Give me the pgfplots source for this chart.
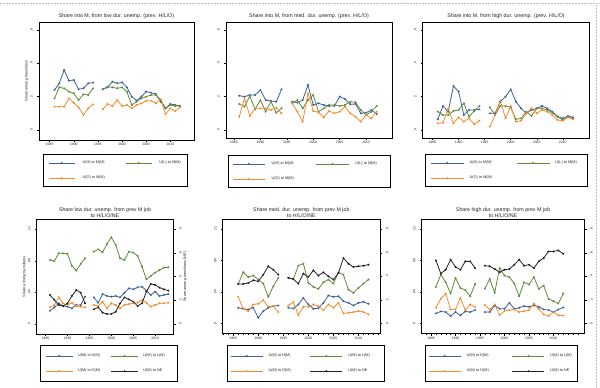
\documentclass[border=0pt]{standalone}
\usepackage{fontspec}
\setmainfont{Liberation Sans}
\usepackage{pgfplots}
\usepackage{pgfplotstable}
\pgfplotsset{compat=1.18}

\definecolor{cB}{RGB}{62,98,148}
\definecolor{cG}{RGB}{98,140,62}
\definecolor{cO}{RGB}{245,140,45}
\definecolor{cK}{RGB}{35,35,35}

% top panels: year, U(H), U(L), U(O) to M(M)
\pgfplotstableread{
year b g o
1986 .24 .19 .14
1987 .28 .256 .14
1988 .36 .25 .14
1989 .296 .23 .19
1990 .30 .22 .164
1991 .244 .18 .136
1992 .25 .214 .09
1993 .28 .21 .13
1994 .284 .25 .154
1995 nan nan nan
1996 .244 .244 .124
1997 .256 .26 .156
1998 .29 .256 .144
1999 .28 .25 .18
2000 .286 .256 .144
2001 .256 .23 .15
2002 .2 .15 .13
2003 .176 .17 .15
2004 .2 .19 .16
2005 .23 .2 .174
2006 .224 .21 .176
2007 .216 .21 .16
2008 .17 .18 .184
2009 .13 .13 .096
2010 .156 .15 .13
2011 .15 .144 .114
2012 .144 .144 .136
}\tTL
\pgfplotstableread{
year b g o
1986 .206 .156 .08
1987 .2 .14 .19
1988 .21 .204 .084
1989 .21 .124 .13
1990 .24 .18 .13
1991 .18 .11 .13
1992 .174 .17 .12
1993 .17 .104 .134
1994 .244 .13 .1
1995 nan nan nan
1996 .17 .16 .16
1997 .164 .18 .11
1998 .18 .13 .05
1999 .27 .18 .22
2000 .15 .21 .114
2001 .16 .11 .106
2002 .15 .13 .076
2003 .144 .15 .114
2004 .144 .15 .1
2005 .2 .144 .11
2006 .186 .15 .14
2007 .154 .17 .1
2008 .156 .166 .08
2009 .1 .12 .05
2010 .104 .09 .09
2011 .12 .11 .07
2012 .096 .144 .11
}\tTM
\pgfplotstableread{
year b g o
1986 .064 .11 .04
1987 .144 .09 .044
1988 .11 .09 .13
1989 .264 .114 .04
1990 .23 .12 .076
1991 .09 .16 .05
1992 .12 .08 .07
1993 .12 .114 .034
1994 .124 .144 .056
1995 nan nan nan
1996 .1 .136 .02
1997 .1 .09 .09
1998 .17 .144 .176
1999 .2 .144 .07
2000 .244 .136 .144
2001 .17 .064 .05
2002 .13 .07 .056
2003 .1 .11 .1
2004 .12 .084 .13
2005 .13 .13 .1
2006 .144 .13 .12
2007 .13 .12 .11
2008 .11 .104 .09
2009 .08 .08 .06
2010 .07 .06 .056
2011 .084 .076 .076
2012 .076 .07 .064
}\tTR
% bottom panels: year, H (left), L (right), O (left), NE (right)
\pgfplotstableread{
year b g o k
1986 .0169 .541 .0211 .245
1987 .0211 .532 .0241 .203
1988 .0262 .597 .0338 .161
1989 .0228 .597 .0262 .152
1990 .0220 .592 .0241 .175
1991 .0199 .490 .0270 .237
1992 .0241 .451 .0228 .287
1993 .0241 .507 .0220 .265
1994 .0346 .555 .0211 .175
1995 nan nan nan nan
1996 .0338 .611 .0241 .124
1997 .0270 .631 .0228 .141
1998 .0380 .606 .0283 .096
1999 .0355 .676 .0199 .085
2000 .0346 .732 .0262 .085
2001 .0355 .668 .0241 .104
2002 .0338 .555 .0199 .175
2003 .0397 .541 .0241 .225
2004 .0452 .611 .0253 .208
2005 .0439 .603 .0262 .189
2006 .0465 .575 .0270 .152
2007 .0473 .485 .0304 .175
2008 .0422 .377 .0270 .273
2009 .0368 .406 .0220 .338
2010 .0410 .434 .0241 .330
2011 .0355 .456 .0262 .307
2012 .0368 .476 .0262 .293
2013 .0380 .479 .0270 .282
}\tBL
\pgfplotstableread{
year b g o k
1986 .0199 .335 .0338 .335
1987 .0186 .434 .0186 .335
1988 .0177 .394 .0156 .344
1989 .0199 .406 .0241 .366
1990 .0072 .372 .0249 .358
1991 .0156 .338 .0296 .414
1992 .0199 .225 .0211 .485
1993 .0220 .315 .0220 .456
1994 .0228 .386 .0144 .414
1995 nan nan nan nan
1996 .0199 .386 .0228 .386
1997 .0190 .377 .0270 .377
1998 .0241 .490 .0106 .338
1999 .0325 .507 .0211 .423
2000 .0241 .344 .0211 .394
2001 .0186 .310 .0241 .451
2002 .0194 .293 .0220 .406
2003 .0262 .349 .0169 .434
2004 .0355 .372 .0241 .400
2005 .0338 .338 .0199 .372
2006 .0346 .434 .0262 .428
2007 .0283 .414 .0127 .555
2008 .0262 .287 .0135 .507
2009 .0228 .259 .0144 .479
2010 .0262 .301 .0156 .485
2011 .0275 .338 .0144 .490
2012 .0249 .372 .0114 .499
}\tBM
\pgfplotstableread{
year b g o k
1986 .0127 .310 .0199 .535
1987 .0152 .414 .0313 .423
1988 .0144 .349 .0380 .456
1989 .0093 .254 .0177 .541
1990 .0144 .386 .0177 .479
1991 .0101 .301 .0325 .456
1992 .0152 .282 .0169 .527
1993 .0144 .231 .0241 .527
1994 .0169 .335 .0211 .470
1995 nan nan nan nan
1996 .0144 .296 .0232 .490
1997 .0144 .377 .0177 .485
1998 .0228 .259 .0241 .462
1999 .0186 .470 .0106 .434
2000 .0186 .406 .0156 .456
2001 .0262 .394 .0169 .462
2002 .0186 .338 .0177 .499
2003 .0199 .231 .0144 .541
2004 .0220 .349 .0156 .490
2005 .0211 .330 .0169 .499
2006 .0228 .394 .0253 .470
2007 .0211 .293 .0186 .527
2008 .0177 .321 .0114 .555
2009 .0169 .208 .0093 .611
2010 .0144 .189 .0144 .611
2011 .0177 .169 .0101 .620
2012 .0203 .254 .0101 .592
}\tBR

\pgfplotsset{
  sB/.style={color=cB, line width=0.8bp, mark=*, mark size=0.55bp, mark options={solid}},
  sG/.style={color=cG, line width=0.8bp, mark=*, mark size=0.55bp, mark options={solid}},
  sO/.style={color=cO, line width=0.8bp, mark=*, mark size=0.55bp, mark options={solid}},
  sK/.style={color=cK, line width=0.8bp, mark=*, mark size=0.55bp, mark options={solid}},
  legimg/.style 2 args={legend image code/.code={\draw[mark repeat=2,mark phase=2,##1] plot coordinates {(0bp,0bp) (#1,0bp) (#2,0bp)};}},
  base/.style={
    scale only axis,
    axis line style={black, line width=0.6bp},
    tick style={black, line width=0.4bp},
    tick align=outside,
    major tick length=2.2bp,
    minor tick length=1.3bp,
    xtick={1985,1990,...,2010},
    xticklabels={1985,1990,1995,2000,2005,2010},
    minor xtick={1983,...,2015},
    xtick pos=bottom, ytick pos=left,
    /pgf/number format/assume math mode=true,
    ticklabel style={font=\fontsize{3.4}{4}\selectfont, inner sep=1bp, text=black!85},
    yticklabel style={rotate=90, anchor=south},
    yticklabel shift=3bp,
    ylabel style={font=\fontsize{3.8}{4.2}\selectfont, inner sep=0.5bp, text=black!85},
    unbounded coords=jump,
    every axis title/.style={at={(0.5,1)}, anchor=south, inner sep=0pt, font=\fontsize{5.3}{5.9}\selectfont, align=center, text=black!85},
    legend columns=2,
    legend cell align=left,
  },
  topy/.style={ytick={0,0.2,0.4,0.6}, yticklabels={0,.2,.4,.6}, title style={yshift=3.5bp}},
  boty/.style={ymin=-0.01267, ymax=0.13267, ytick={0,0.04,0.08,0.12}, yticklabels={0,.04,.08,.12}, title style={yshift=1.8bp}},
  right/.style={scale only axis, axis x line=none, axis y line*=right,
    axis line style={black, line width=0.6bp},
    tick style={black, line width=0.4bp}, tick align=outside, major tick length=2.2bp,
    xtick=\empty, minor xtick=\empty,
    ymin=-0.0845, ymax=0.8845, ytick={0,0.2,0.4,0.6,0.8}, yticklabels={0,.2,.4,.6,.8},
    ticklabel style={font=\fontsize{3.4}{4}\selectfont, inner sep=1bp, text=black!85},
    yticklabel style={rotate=90, anchor=north},
    yticklabel shift=2.5bp,
    ylabel style={font=\fontsize{3.8}{4.2}\selectfont, inner sep=0.5bp, text=black!85},
    unbounded coords=jump, legend columns=2, legend cell align=left},
  leg/.style={legend style={font=\fontsize{3.8}{4.2}\selectfont, draw=black, line width=0.6bp,
    anchor=north west, nodes={inner sep=0.5bp}, text=black!85}},
}

\begin{document}
\begin{tikzpicture}[x=1bp,y=1bp]
\useasboundingbox (0,0) rectangle (600,387);
\fill[white] (0,0) rectangle (600,387);
\draw[densely dotted, color=gray!50, line width=0.5bp] (0,383.5) -- (600,383.5);
\draw[densely dotted, color=gray!50, line width=0.5bp] (596.7,0) -- (596.7,383.5);

% ---------- top left
\begin{axis}[base, topy, at={(39bp,247bp)}, anchor=south west, width=155bp, height=118bp,
  xmin=1982.8, xmax=2014.9, ymin=-0.06, ymax=0.648,
  title={Share into M, from low dur. unemp. (prev. H/L/O)},
  ylabel={Share among transitions},
  leg, legimg={13bp}{26bp},
  legend style={at={(0.0258,-0.1186)}, inner xsep=5bp, inner ysep=6bp, row sep=10bp,
    /tikz/every odd column/.append style={column sep=7bp},
    /tikz/every even column/.append style={column sep=4bp}}]
\addplot[sB] table[x=year,y=b]{\tTL}; \addlegendentry{\makebox[38bp][l]{U(H) to M(M)}}
\addplot[sG] table[x=year,y=g]{\tTL}; \addlegendentry{\makebox[22bp][l]{U(L) to M(M)}}
\addplot[sO] table[x=year,y=o]{\tTL}; \addlegendentry{\makebox[38bp][l]{U(O) to M(M)}}
\end{axis}

% ---------- top middle
\begin{axis}[base, topy, at={(226bp,249bp)}, anchor=south west, width=166bp, height=116bp,
  xmin=1983.5, xmax=2014.9, ymin=-0.048, ymax=0.648,
  title={Share into M, from med. dur. unemp. (prev. H/L/O)},
  leg, legimg={16bp}{32bp},
  legend style={at={(0.012,-0.1466)}, inner xsep=4bp, inner ysep=6bp, row sep=10bp,
    /tikz/every odd column/.append style={column sep=6bp},
    /tikz/every even column/.append style={column sep=5bp}}]
\addplot[sB] table[x=year,y=b]{\tTM}; \addlegendentry{\makebox[39bp][l]{U(H) to M(M)}}
\addplot[sG] table[x=year,y=g]{\tTM}; \addlegendentry{\makebox[30bp][l]{U(L) to M(M)}}
\addplot[sO] table[x=year,y=o]{\tTM}; \addlegendentry{\makebox[39bp][l]{U(O) to M(M)}}
\end{axis}

% ---------- top right
\begin{axis}[base, topy, at={(422.7bp,249bp)}, anchor=south west, width=166.6bp, height=116bp,
  xmin=1983.1, xmax=2015.1, ymin=-0.048, ymax=0.648,
  title={Share into M, from high dur. unemp. (prev. H/L/O)},
  leg, legimg={16.5bp}{33bp},
  legend style={at={(0.014,-0.138)}, inner xsep=5bp, inner ysep=6bp, row sep=10bp,
    /tikz/every odd column/.append style={column sep=5bp},
    /tikz/every even column/.append style={column sep=4bp}}]
\addplot[sB] table[x=year,y=b]{\tTR}; \addlegendentry{\makebox[42bp][l]{U(H) to M(M)}}
\addplot[sG] table[x=year,y=g]{\tTR}; \addlegendentry{\makebox[26bp][l]{U(L) to M(M)}}
\addplot[sO] table[x=year,y=o]{\tTR}; \addlegendentry{\makebox[42bp][l]{U(O) to M(M)}}
\end{axis}

% ---------- bottom left
\begin{axis}[base, boty, at={(36.7bp,53bp)}, anchor=south west, width=136.6bp, height=114.7bp,
  xmin=1982.97, xmax=2014.14,
  title={Share low dur. unemp. from prev M job\\to H/L/O/NE},
  ylabel={Share among transitions}]
\addplot[sB] table[x=year,y=b]{\tBL};
\addplot[sO] table[x=year,y=o]{\tBL};
\end{axis}
\begin{axis}[right, at={(36.7bp,53bp)}, anchor=south west, width=136.6bp, height=114.7bp,
  xmin=1982.97, xmax=2014.14,
  ylabel={Share among transitions (NE)},
  leg, legimg={13.5bp}{27bp},
  legend style={at={(0.024,-0.0959)}, inner xsep=5bp, inner ysep=8bp, row sep=10bp,
    /tikz/every odd column/.append style={column sep=4.5bp},
    /tikz/every even column/.append style={column sep=4bp}}]
\addlegendimage{sB}\addlegendentry{\makebox[28bp][l]{U(M) to H(M)}}
\addplot[sG] table[x=year,y=g]{\tBL}; \addlegendentry{\makebox[28bp][l]{U(M) to L(M)}}
\addlegendimage{sO}\addlegendentry{\makebox[28bp][l]{U(M) to O(M)}}
\addplot[sK] table[x=year,y=k]{\tBL}; \addlegendentry{\makebox[28bp][l]{U(M) to NE}}
\end{axis}

% ---------- bottom middle
\begin{axis}[base, boty, at={(222.7bp,53.7bp)}, anchor=south west, width=157.3bp, height=114bp,
  xmin=1982.9, xmax=2014.3,
  title={Share med. dur. unemp. from prev M job\\to H/L/O/NE}]
\addplot[sB] table[x=year,y=b]{\tBM};
\addplot[sO] table[x=year,y=o]{\tBM};
\end{axis}
\begin{axis}[right, at={(222.7bp,53.7bp)}, anchor=south west, width=157.3bp, height=114bp,
  xmin=1982.9, xmax=2014.3,
  leg, legimg={16bp}{32bp},
  legend style={at={(0.027,-0.1026)}, inner xsep=3bp, inner ysep=8bp, row sep=10bp,
    /tikz/every odd column/.append style={column sep=5bp},
    /tikz/every even column/.append style={column sep=5bp}}]
\addlegendimage{sB}\addlegendentry{\makebox[36bp][l]{U(M) to H(M)}}
\addplot[sG] table[x=year,y=g]{\tBM}; \addlegendentry{\makebox[32bp][l]{U(M) to L(M)}}
\addlegendimage{sO}\addlegendentry{\makebox[36bp][l]{U(M) to O(M)}}
\addplot[sK] table[x=year,y=k]{\tBM}; \addlegendentry{\makebox[32bp][l]{U(M) to NE}}
\end{axis}

% ---------- bottom right
\begin{axis}[base, boty, at={(421.7bp,53.7bp)}, anchor=south west, width=162.6bp, height=114bp,
  xmin=1983.1, xmax=2016.3,
  title={Share high dur. unemp. from prev M job\\to H/L/O/NE}]
\addplot[sB] table[x=year,y=b]{\tBR};
\addplot[sO] table[x=year,y=o]{\tBR};
\end{axis}
\begin{axis}[right, at={(421.7bp,53.7bp)}, anchor=south west, width=162.6bp, height=114bp,
  xmin=1983.1, xmax=2016.3,
  leg, legimg={16bp}{32bp},
  legend style={at={(0.02,-0.1026)}, inner xsep=3bp, inner ysep=8bp, row sep=10bp,
    /tikz/every odd column/.append style={column sep=5bp},
    /tikz/every even column/.append style={column sep=5bp}}]
\addlegendimage{sB}\addlegendentry{\makebox[40bp][l]{U(M) to H(M)}}
\addplot[sG] table[x=year,y=g]{\tBR}; \addlegendentry{\makebox[23bp][l]{U(M) to L(M)}}
\addlegendimage{sO}\addlegendentry{\makebox[40bp][l]{U(M) to O(M)}}
\addplot[sK] table[x=year,y=k]{\tBR}; \addlegendentry{\makebox[23bp][l]{U(M) to NE}}
\end{axis}
\end{tikzpicture}
\end{document}
